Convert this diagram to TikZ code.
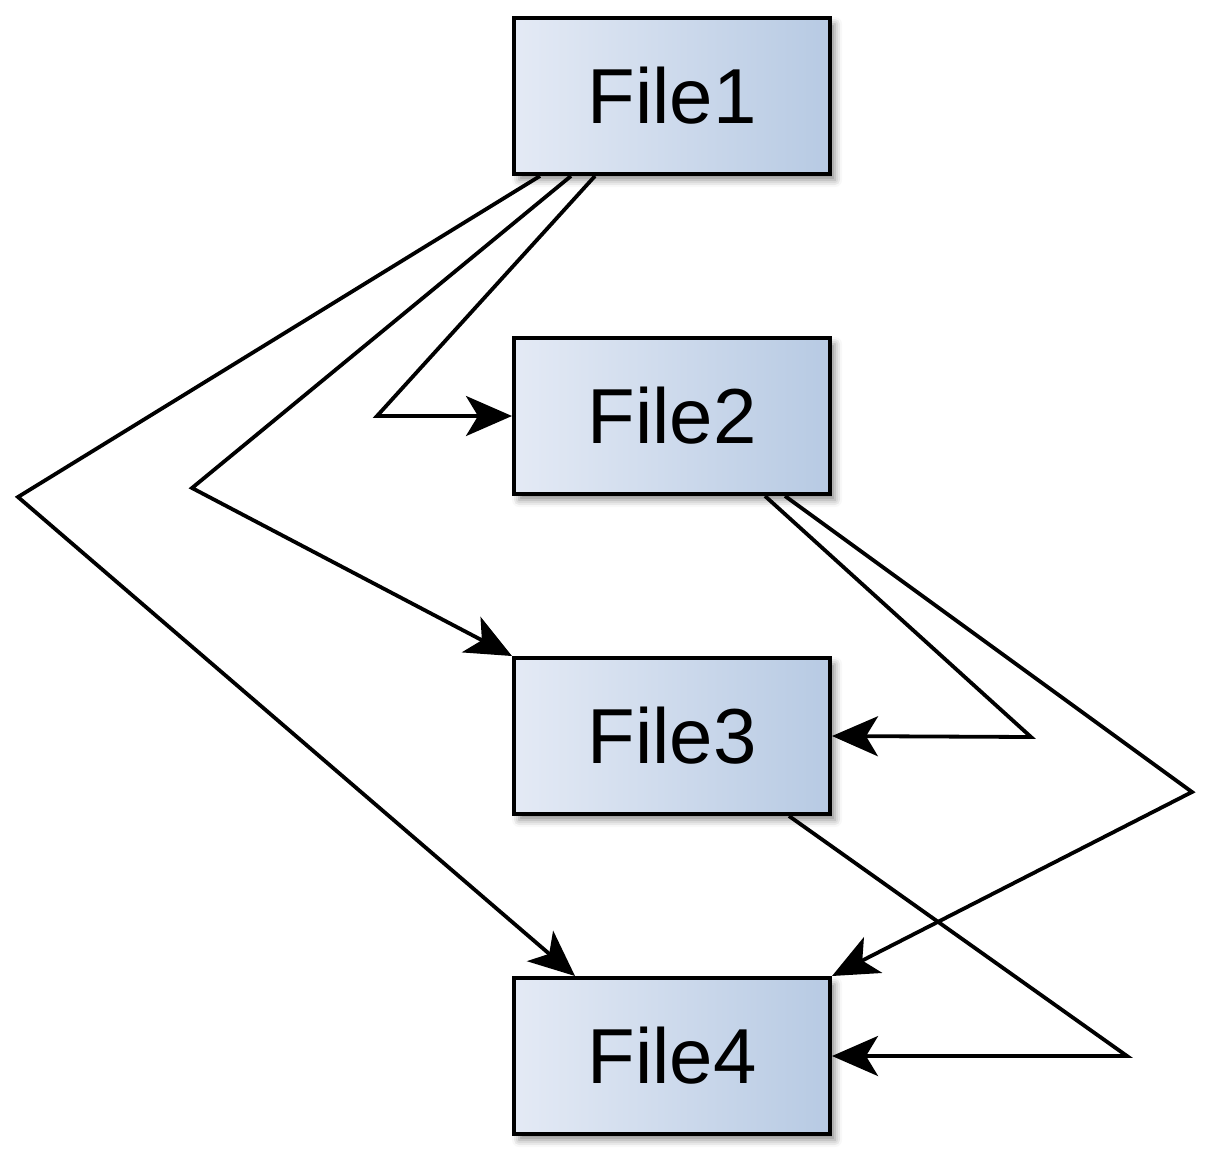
\documentclass[tikz,border=0pt]{standalone}
\usepackage{fontspec}
\setmainfont{Liberation Sans}
\usetikzlibrary{arrows.meta,shadows.blur}
\begin{document}
\begin{tikzpicture}[x=1pt,y=-1pt,
  filebox/.style={draw=black, line width=4pt, minimum width=316pt, minimum height=156pt,
    inner sep=0pt, shading angle=60, left color=boxL, right color=boxR,
    blur shadow={shadow xshift=5pt, shadow yshift=-6pt, shadow blur radius=7pt, shadow opacity=45},
    font=\fontsize{78}{82}\selectfont},
  link/.style={draw=black, line width=3.8pt, line join=miter,
    -{Stealth[length=46pt, width=40pt, inset=12pt]}}]
\definecolor{boxL}{HTML}{E4EAF5}
\definecolor{boxR}{HTML}{B7CAE3}
\useasboundingbox (0,0) rectangle (1208,1152);

\node[filebox] (f1) at (672,96)   {File1};
\node[filebox] (f2) at (672,416)  {File2};
\node[filebox] (f3) at (672,736)  {File3};
\node[filebox] (f4) at (672,1056) {File4};

% bend points of the connectors
\coordinate (b14) at (18,497);
\coordinate (b13) at (192,488);
\coordinate (b12) at (377,416);
\coordinate (b23) at (1031,737);
\coordinate (b24) at (1192,792);
\coordinate (b34) at (1127,1056);

\draw[link] ([xshift=28pt]f1.south west) -- (b14) -- ([xshift=63pt]f4.north west);
\draw[link] ([xshift=59pt]f1.south west) -- (b13) -- (f3.north west);
\draw[link] ([xshift=83pt]f1.south west) -- (b12) -- (f2.west);
\draw[link] ([xshift=-67pt]f2.south east) -- (b23) -- (f3.east);
\draw[link] ([xshift=-47pt]f2.south east) -- (b24) -- (f4.north east);
\draw[link] ([xshift=-43pt]f3.south east) -- (b34) -- (f4.east);
\end{tikzpicture}
\end{document}
